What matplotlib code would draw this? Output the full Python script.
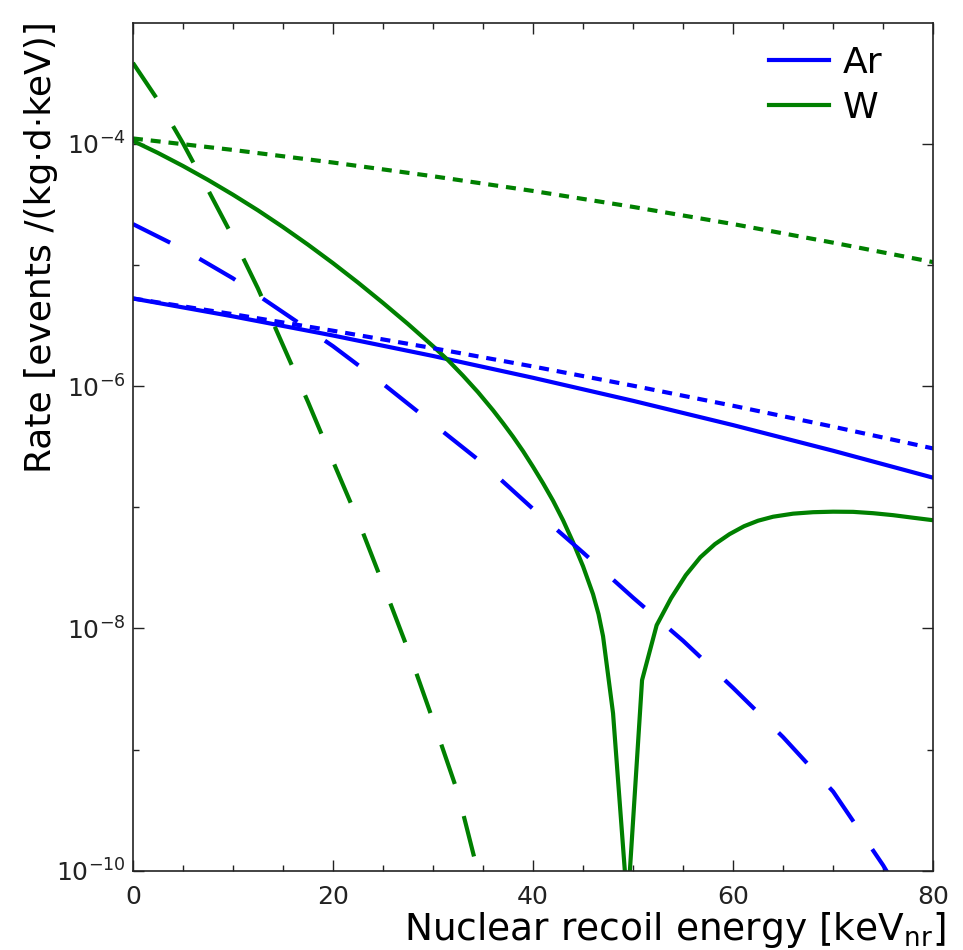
import matplotlib
matplotlib.use("Agg")
import matplotlib.pyplot as plt
from matplotlib.ticker import FixedLocator, LogFormatterSciNotation, NullFormatter

plt.rcParams['axes.unicode_minus'] = False

# recoil energy grids [keV_nr]
e_coarse = [0, 10, 20, 30, 40, 50, 60, 70, 80]
e_ar_dash = [0, 5, 10, 15, 20, 25, 30, 35, 40, 45, 50, 55, 60, 65, 70, 75, 76, 78, 80]
e_w_dash = [0, 2.5, 5, 7.5, 10, 12.5, 15, 17.5, 20, 22.5, 25, 27.5, 30, 32.5, 34.4, 36]
e_w_solid = [0, 2.5, 5, 7.5, 10, 12.5, 15, 17.5, 20, 22.5, 25, 27.5, 30, 31.5, 33, 34.5,
             36, 37, 38, 39, 40, 41, 42, 43, 44, 45, 46, 46.55, 47, 48.0, 49.45,
             50.9, 52.36, 53.8, 55.27, 56.73, 58.18, 59.64, 61.1, 62.5, 64, 66, 68, 70,
             72, 74, 76, 78, 80]

# rates [events /(kg d keV)]
ar_solid = [5.30e-6, 3.77e-6, 2.62e-6, 1.776e-6, 1.173e-6, 7.57e-7, 4.77e-7, 2.93e-7, 1.755e-7]
ar_dotted = [5.30e-6, 3.93e-6, 2.87e-6, 2.06e-6, 1.454e-6, 1.009e-6, 6.89e-7, 4.63e-7, 3.06e-7]
ar_dashed = [2.18e-5, 1.355e-5, 7.77e-6, 4.08e-6, 2.14e-6, 1.046e-6, 4.90e-7, 2.30e-7, 9.70e-8,
             4.23e-8, 1.796e-8, 7.91e-9, 3.23e-9, 1.266e-9, 4.50e-10, 1.108e-10, 8.06e-11,
             4.05e-11, 2.0e-11]
w_solid = [1.060e-4, 8.43e-5, 6.58e-5, 5.05e-5, 3.81e-5, 2.83e-5, 2.06e-5, 1.474e-5, 1.037e-5,
           7.17e-6, 4.87e-6, 3.26e-6, 2.14e-6, 1.640e-6, 1.221e-6, 8.92e-7,
           6.33e-7, 4.95e-7, 3.83e-7, 2.91e-7, 2.16e-7, 1.581e-7, 1.134e-7, 7.82e-8, 5.15e-8,
           3.26e-8, 1.916e-8, 1.310e-8, 8.62e-9, 1.994e-9, 5e-11,
           3.74e-9, 1.063e-8, 1.776e-8, 2.75e-8, 3.87e-8, 4.96e-8, 6.00e-8, 6.98e-8, 7.75e-8,
           8.36e-8, 8.86e-8, 9.11e-8, 9.20e-8, 9.17e-8, 8.94e-8, 8.61e-8, 8.20e-8, 7.82e-8]
w_dotted = [1.110e-4, 8.92e-5, 7.02e-5, 5.41e-5, 4.09e-5, 3.02e-5, 2.18e-5, 1.53e-5, 1.057e-5]
w_dashed = [4.67e-4, 2.30e-4, 1.015e-4, 4.19e-5, 1.70e-5, 6.41e-6, 2.18e-6, 7.43e-7, 2.40e-7,
            7.87e-8, 2.32e-8, 6.69e-9, 1.746e-9, 4.36e-10, 1.046e-10, 3.54e-11]

blue = '#0000ff'
green = '#008000'
lw = 3
long_dash = (10, 8)
short_dash = (2.4, 1.9)

fig = plt.figure(figsize=(9.63, 9.5), dpi=100)
ax = fig.add_axes([0.138, 0.0835, 0.831, 0.8925])

ax.plot(e_coarse, ar_solid, color=blue, lw=lw, label='Ar')
ax.plot(e_w_solid, w_solid, color=green, lw=lw, label='W')
ax.plot(e_coarse, ar_dotted, color=blue, lw=lw, dashes=short_dash)
ax.plot(e_coarse, w_dotted, color=green, lw=lw, dashes=short_dash)
ax.plot(e_ar_dash, ar_dashed, color=blue, lw=lw, dashes=long_dash)
ax.plot(e_w_dash, w_dashed, color=green, lw=lw, dashes=long_dash)

ax.set_yscale('log')
ax.set_xlim(0, 80)
ax.set_ylim(1e-10, 1e-3)

ax.set_xticks([0, 20, 40, 60, 80])
ax.xaxis.set_minor_locator(FixedLocator(range(0, 81, 5)))
ax.yaxis.set_major_locator(FixedLocator([1e-10, 1e-8, 1e-6, 1e-4]))
ax.yaxis.set_major_formatter(LogFormatterSciNotation())
ax.yaxis.set_minor_locator(FixedLocator([1e-9, 1e-7, 1e-5]))
ax.yaxis.set_minor_formatter(NullFormatter())

ax.tick_params(which='both', direction='in', top=True, right=True, colors='#222222')
ax.tick_params(which='major', length=8, width=1)
ax.tick_params(which='minor', length=4, width=1)
ax.tick_params(axis='x', which='major', labelsize=18, pad=10)
ax.tick_params(axis='y', which='major', labelsize=18, pad=5)
for s in ax.spines.values():
    s.set_color('#222222')
    s.set_linewidth(1.2)

ax.set_xlabel(r'Nuclear recoil energy [keV$_{\mathrm{nr}}$]', fontsize=27, ha='right')
ax.xaxis.set_label_coords(1.015, -0.046)
ax.set_ylabel('Rate [events /(kg·d·keV)]', fontsize=26)
ax.yaxis.set_label_coords(-0.094, 0.735)

ax.legend(loc='upper right', bbox_to_anchor=(0.955, 0.99), borderaxespad=0, frameon=False,
          fontsize=26, handlelength=1.65, handletextpad=0.4, labelspacing=0.3)

fig.savefig('out.png', dpi=100)
